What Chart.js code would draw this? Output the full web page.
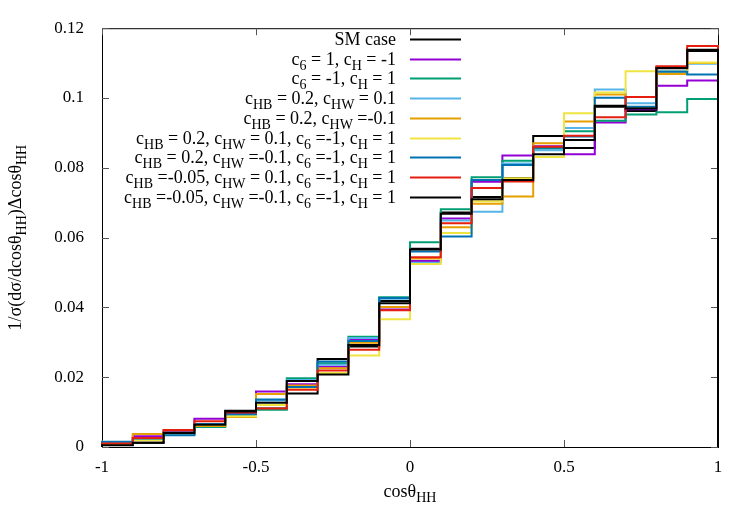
<!DOCTYPE html>
<html>
<head>
<meta charset="utf-8">
<script src="https://cdn.jsdelivr.net/npm/chart.js@4"></script>
<style>
  body { margin: 0; background: #fff; }
  #wrap { width: 750px; height: 525px; }
</style>
</head>
<body>
<div id="wrap"><canvas id="chart" width="750" height="525"></canvas></div>
<script>
// bin edges of cos(theta_HH), 20 bins from -1 to 1
const binEdges = [-1, -0.9, -0.8, -0.7, -0.6, -0.5, -0.4, -0.3, -0.2, -0.1,
                  0, 0.1, 0.2, 0.3, 0.4, 0.5, 0.6, 0.7, 0.8, 0.9, 1];

const xTicks = [-1, -0.5, 0, 0.5, 1];
const yTicks = [0, 0.02, 0.04, 0.06, 0.08, 0.1, 0.12];

// legend labels, _{..} = subscript
const seriesLabels = [
  'SM case',
  'c_{6} = 1, c_{H} = -1',
  'c_{6} = -1, c_{H} = 1',
  'c_{HB} = 0.2, c_{HW} = 0.1',
  'c_{HB} = 0.2, c_{HW} =-0.1',
  'c_{HB} = 0.2, c_{HW} = 0.1, c_{6} =-1, c_{H} = 1',
  'c_{HB} = 0.2, c_{HW} =-0.1, c_{6} =-1, c_{H} = 1',
  'c_{HB} =-0.05, c_{HW} = 0.1, c_{6} =-1, c_{H} = 1',
  'c_{HB} =-0.05, c_{HW} =-0.1, c_{6} =-1, c_{H} = 1'
];
const seriesColors = ['#000000', '#9400d3', '#009e73', '#56b4e9', '#e69f00',
                      '#f0e442', '#0072b2', '#e51e10', '#000000'];

// bin contents per series
const smCase    = [0.0006, 0.0012, 0.0037, 0.0060, 0.0104, 0.0110, 0.0153, 0.0252, 0.0288, 0.0418,
                   0.0568, 0.0672, 0.0716, 0.0771, 0.0891, 0.0857, 0.0975, 0.0963, 0.1088, 0.1135];
const c6p_cHm   = [0.0012, 0.0031, 0.0044, 0.0081, 0.0096, 0.0159, 0.0180, 0.0230, 0.0308, 0.0394,
                   0.0533, 0.0655, 0.0760, 0.0835, 0.0862, 0.0839, 0.0930, 0.0968, 0.1035, 0.1050];
const c6m_cHp   = [0.0010, 0.0020, 0.0048, 0.0057, 0.0092, 0.0107, 0.0197, 0.0240, 0.0316, 0.0429,
                   0.0587, 0.0681, 0.0773, 0.0820, 0.0855, 0.0905, 0.0935, 0.0953, 0.0959, 0.0997];
const hb2_hwp   = [0.0013, 0.0022, 0.0036, 0.0062, 0.0090, 0.0133, 0.0192, 0.0236, 0.0312, 0.0425,
                   0.0528, 0.0649, 0.0674, 0.0812, 0.0850, 0.0914, 0.1024, 0.0985, 0.1077, 0.1098];
const hb2_hwm   = [0.0009, 0.0037, 0.0041, 0.0060, 0.0086, 0.0152, 0.0176, 0.0226, 0.0299, 0.0401,
                   0.0540, 0.0630, 0.0697, 0.0718, 0.0870, 0.0933, 0.1010, 0.0972, 0.1069, 0.1100];
const hb2_hwp_6 = [0.0008, 0.0019, 0.0039, 0.0063, 0.0088, 0.0120, 0.0170, 0.0212, 0.0262, 0.0366,
                   0.0524, 0.0613, 0.0704, 0.0770, 0.0831, 0.0956, 0.1016, 0.1077, 0.1075, 0.1102];
const hb2_hwm_6 = [0.0015, 0.0024, 0.0034, 0.0066, 0.0094, 0.0136, 0.0172, 0.0245, 0.0304, 0.0427,
                   0.0560, 0.0603, 0.0765, 0.0808, 0.0858, 0.0890, 0.1001, 0.0975, 0.1075, 0.1067];
const hbm_hwp_6 = [0.0010, 0.0026, 0.0049, 0.0074, 0.0099, 0.0110, 0.0164, 0.0219, 0.0279, 0.0392,
                   0.0544, 0.0641, 0.0742, 0.0761, 0.0860, 0.0892, 0.0945, 0.1003, 0.1091, 0.1149];
const hbm_hwm_6 = [0.0005, 0.0012, 0.0040, 0.0064, 0.0102, 0.0127, 0.0189, 0.0208, 0.0292, 0.0412,
                   0.0566, 0.0668, 0.0710, 0.0765, 0.0839, 0.0880, 0.0978, 0.0970, 0.1085, 0.1138];

const seriesValues = [smCase, c6p_cHm, c6m_cHp, hb2_hwp, hb2_hwm, hb2_hwp_6, hb2_hwm_6, hbm_hwp_6, hbm_hwm_6];

const FONT = '"Liberation Serif", "DejaVu Serif", serif';

// histogram outline: rise from 0 at -1, hold each bin, drop back to 0 at 1
function histPoints(vals) {
  const pts = [{ x: binEdges[0], y: 0 }];
  vals.forEach((v, i) => pts.push({ x: binEdges[i], y: v }));
  pts.push({ x: binEdges[binEdges.length - 1], y: vals[vals.length - 1] });
  pts.push({ x: binEdges[binEdges.length - 1], y: 0 });
  return pts;
}

// split "c_{HB} = 0.2" into normal / subscript pieces
function parseRich(str) {
  const parts = [];
  const re = /_\{([^}]*)\}/g;
  let last = 0, m;
  while ((m = re.exec(str)) !== null) {
    if (m.index > last) parts.push({ t: str.slice(last, m.index), sub: false });
    parts.push({ t: m[1], sub: true });
    last = re.lastIndex;
  }
  if (last < str.length) parts.push({ t: str.slice(last), sub: false });
  return parts;
}

function drawRich(ctx, str, x, y, align, size) {
  const parts = parseRich(str);
  const main = size + 'px ' + FONT;
  const small = Math.round(size * 0.8) + 'px ' + FONT;
  let total = 0;
  parts.forEach(p => { ctx.font = p.sub ? small : main; p.w = ctx.measureText(p.t).width; total += p.w; });
  let cx = x;
  if (align === 'right') cx = x - total;
  else if (align === 'center') cx = x - total / 2;
  ctx.textAlign = 'left';
  ctx.textBaseline = 'alphabetic';
  parts.forEach(p => {
    ctx.font = p.sub ? small : main;
    ctx.fillText(p.t, cx, p.sub ? y + 5 : y);
    cx += p.w;
  });
}

// frame + inward mirrored ticks
const framePlugin = {
  id: 'frame',
  beforeDatasetsDraw(chart) {
    const { ctx, chartArea: a, scales } = chart;
    ctx.save();
    ctx.strokeStyle = '#000';
    ctx.lineWidth = 1;
    ctx.strokeRect(a.left + 0.5, a.top + 0.5, a.right - a.left, a.bottom - a.top);
    ctx.strokeStyle = '#555';
    ctx.beginPath();
    const tl = 7;
    xTicks.forEach(v => {
      const px = Math.round(scales.x.getPixelForValue(v)) + 0.5;
      ctx.moveTo(px, a.bottom); ctx.lineTo(px, a.bottom - tl);
      ctx.moveTo(px, a.top); ctx.lineTo(px, a.top + tl);
    });
    yTicks.forEach(v => {
      const py = Math.round(scales.y.getPixelForValue(v)) + 0.5;
      ctx.moveTo(a.left, py); ctx.lineTo(a.left + tl, py);
      ctx.moveTo(a.right, py); ctx.lineTo(a.right - tl, py);
    });
    ctx.stroke();
    ctx.restore();
  },
  afterDraw(chart) {
    const { ctx, chartArea: a } = chart;
    ctx.save();
    ctx.fillStyle = '#000';
    // legend, gnuplot style (text right aligned, sample to the right)
    seriesLabels.forEach((lab, i) => {
      const y = 39 + i * 19.7;
      drawRich(ctx, lab, 396, y + 6, 'right', 18);
      ctx.strokeStyle = seriesColors[i];
      ctx.lineWidth = 2;
      ctx.beginPath();
      ctx.moveTo(410, Math.round(y) + 0.5);
      ctx.lineTo(461, Math.round(y) + 0.5);
      ctx.stroke();
    });
    // axis titles
    drawRich(ctx, 'cosθ_{HH}', (a.left + a.right) / 2, 497, 'center', 18);
    ctx.translate(21, (a.top + a.bottom) / 2);
    ctx.rotate(-Math.PI / 2);
    drawRich(ctx, '1/σ(dσ/dcosθ_{HH})Δcosθ_{HH}', 0, 0, 'center', 18);
    ctx.restore();
  }
};

new Chart(document.getElementById('chart'), {
  type: 'line',
  data: {
    datasets: seriesValues.map((vals, i) => ({
      label: seriesLabels[i],
      data: histPoints(vals),
      borderColor: seriesColors[i],
      backgroundColor: seriesColors[i],
      borderWidth: 2,
      pointRadius: 0,
      stepped: 'before',
      fill: false,
      clip: 4,
      order: seriesValues.length - 1 - i
    }))
  },
  options: {
    responsive: false,
    animation: false,
    devicePixelRatio: 1,
    layout: { padding: { top: 22, right: 32, left: 0, bottom: 0 } },
    plugins: { legend: { display: false }, tooltip: { enabled: false } },
    scales: {
      x: {
        type: 'linear',
        min: -1, max: 1,
        afterFit(s) { s.height = 78; },
        afterBuildTicks(s) { s.ticks = xTicks.map(v => ({ value: v })); },
        grid: { display: false, drawTicks: false },
        border: { display: false },
        ticks: {
          padding: 10,
          color: '#000',
          font: { family: FONT, size: 17 },
          maxRotation: 0,
          autoSkip: false,
          callback: v => String(v)
        }
      },
      y: {
        type: 'linear',
        min: 0, max: 0.12,
        afterFit(s) { s.width = 102; },
        afterBuildTicks(s) { s.ticks = yTicks.map(v => ({ value: v })); },
        grid: { display: false, drawTicks: false },
        border: { display: false },
        ticks: {
          padding: 18,
          color: '#000',
          font: { family: FONT, size: 17 },
          autoSkip: false,
          callback: v => String(+v.toFixed(2))
        }
      }
    }
  },
  plugins: [framePlugin]
});
</script>
</body>
</html>
